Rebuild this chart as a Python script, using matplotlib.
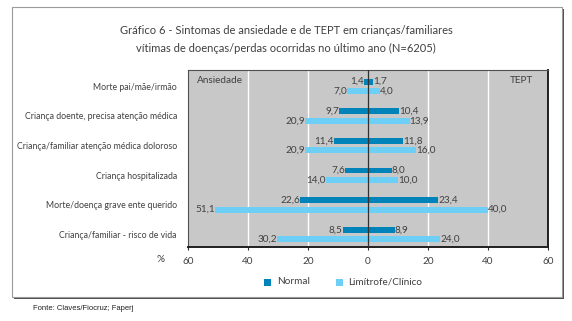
import numpy as np
import matplotlib.pyplot as plt
from matplotlib.patches import Rectangle

categorias = ["Morte pai/mãe/irmão",
              "Criança doente, precisa atenção médica",
              "Criança/familiar atenção médica doloroso",
              "Criança hospitalizada",
              "Morte/doença grave ente querido",
              "Criança/familiar - risco de vida"]
ans_normal = [1.4, 9.7, 11.4, 7.6, 22.6, 8.5]
ans_clinico = [7.0, 20.9, 20.9, 14.0, 51.1, 30.2]
tept_normal = [1.7, 10.4, 11.8, 8.0, 23.4, 8.9]
tept_clinico = [4.0, 13.9, 16.0, 10.0, 40.0, 24.0]
ticks = [-60, -40, -20, 0, 20, 40, 60]

escuro = "#0083b9"
claro = "#6dcff6"
txt = "#404040"
plt.rcParams['font.family'] = ['Lato', 'DejaVu Sans']

fig = plt.figure(figsize=(5.72, 3.21), dpi=100)
W, H = 572, 321

# moldura externa com sombra
fig.patches.append(Rectangle((13.5/W, 1-298.5/H), 550/W, 290/H, transform=fig.transFigure,
                             facecolor="#505050", edgecolor="none", zorder=0))
fig.patches.append(Rectangle((12/W, 1-297/H), 550/W, 290/H, transform=fig.transFigure,
                             facecolor="white", edgecolor="#9a9a9a", lw=0.8, zorder=0.5))

ax = fig.add_axes([188/W, 1-247/H, 360/W, 177/H])
ax.set_zorder(3)
ax.set_facecolor("#c8c8c8")
y = np.arange(len(categorias))
off = 0.16
h = 0.2
ax.barh(y - off, [-v for v in ans_normal], height=h, color=escuro, zorder=3)
ax.barh(y + off, [-v for v in ans_clinico], height=h, color=claro, zorder=3)
ax.barh(y - off, tept_normal, height=h, color=escuro, zorder=3)
ax.barh(y + off, tept_clinico, height=h, color=claro, zorder=3)

fmt = lambda v: f"{v:.1f}".replace(".", ",")
fs = 7.2
for i in y:
    ax.text(-ans_normal[i], i - off, fmt(ans_normal[i]), ha="right", va="center", fontsize=fs, color=txt, zorder=4)
    ax.text(-ans_clinico[i], i + off, fmt(ans_clinico[i]), ha="right", va="center", fontsize=fs, color=txt, zorder=4)
    ax.text(tept_normal[i], i - off, fmt(tept_normal[i]), ha="left", va="center", fontsize=fs, color=txt, zorder=4)
    ax.text(tept_clinico[i], i + off, fmt(tept_clinico[i]), ha="left", va="center", fontsize=fs, color=txt, zorder=4)

ax.set_xlim(-60, 60)
ax.set_ylim(5.42, -0.55)
for t in [-40, -20, 20, 40]:
    ax.axvline(t, color="white", lw=1, zorder=1)
ax.axvline(0, color="#303030", lw=0.9, zorder=5)

ax.set_xticks(ticks)
ax.set_xticklabels([str(abs(t)) for t in ticks], fontsize=fs, color=txt)
ax.tick_params(axis="x", length=2.5, color="#303030", pad=5)
ax.set_yticks(y)
ax.set_yticklabels(categorias, fontsize=6.3, color=txt)
ax.tick_params(axis="y", length=0, pad=8)
for s in ["left", "top"]:
    ax.spines[s].set_color("#505050")
    ax.spines[s].set_linewidth(0.8)
for s in ["right", "bottom"]:
    ax.spines[s].set_color("#202020")
    ax.spines[s].set_linewidth(1.4)

ax.text(-57, -0.2, "Ansiedade", fontsize=fs, color=txt, va="center", ha="left")
ax.text(55, -0.2, "TEPT", fontsize=fs, color=txt, va="center", ha="right")

fig.text(161/W, 1-259/H, "%", fontsize=fs, color=txt, ha="center", va="center")
fig.text(286/W, 1-30/H, "Gráfico 6 - Sintomas de ansiedade e de TEPT em crianças/familiares",
         fontsize=8, color=txt, ha="center", va="center")
fig.text(286/W, 1-48/H, "vítimas de doenças/perdas ocorridas no último ano (N=6205)",
         fontsize=8, color=txt, ha="center", va="center")

# legenda
fig.patches.append(Rectangle((264/W, 1-285.5/H), 6.5/W, 6.5/H, transform=fig.transFigure, facecolor=escuro, zorder=2))
fig.text(277/W, 1-282/H, "Normal", fontsize=fs, color=txt, va="center")
fig.patches.append(Rectangle((336/W, 1-285.5/H), 6.5/W, 6.5/H, transform=fig.transFigure, facecolor=claro, zorder=2))
fig.text(348/W, 1-282/H, "Limítrofe/Clínico", fontsize=fs, color=txt, va="center")

fig.text(33/W, 1-308/H, "Fonte: Claves/Fiocruz; Faperj", fontsize=5.5, color="#202020",
         family=["Liberation Sans", "DejaVu Sans"], va="center")

fig.savefig("out.png", dpi=100)
